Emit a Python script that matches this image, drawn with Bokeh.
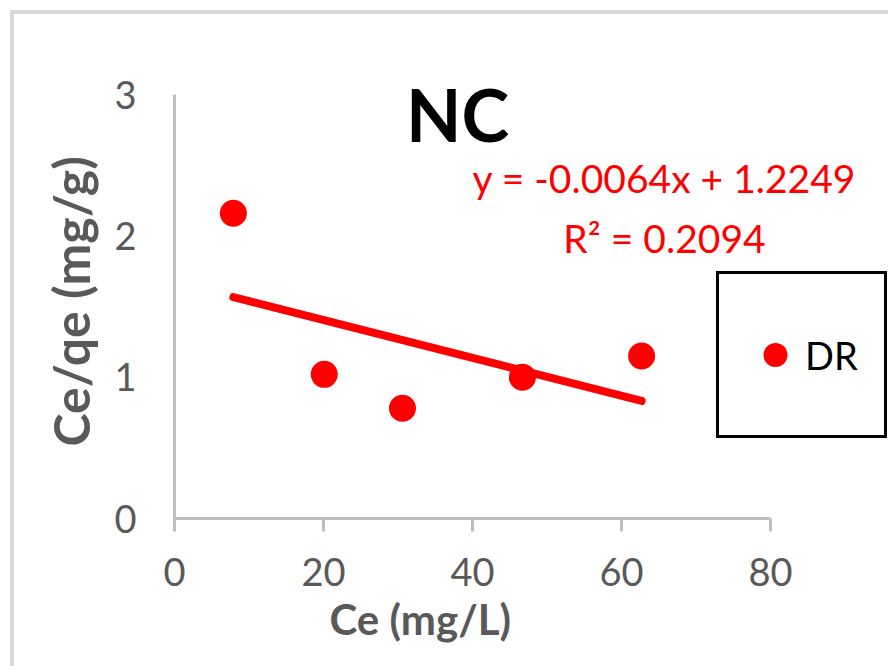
import numpy as np
from bokeh.plotting import figure
from bokeh.models import Legend, LegendItem, Label, FixedTicker, InlineStyleSheet, Title
from bokeh.embed import file_html
from bokeh.resources import INLINE

# ---- data ----
ce = [7.9, 20.1, 30.6, 46.7, 62.7]          # Ce (mg/L)
ce_qe = [2.16, 1.02, 0.78, 1.0, 1.15]       # Ce/qe (mg/g)
series_name = "DR"
title_text = "NC"
x_title = "Ce (mg/L)"
y_title = "Ce/qe (mg/g)"
eq_text = "y = -0.0064x + 1.2249"
r2_text = "R² = 0.2094"
x_ticks = [0, 20, 40, 60, 80]
y_ticks = [0, 1, 2, 3]
x_axis_span = (0, 80)
y_axis_span = (0, 3)

FONT = "Lato"
RED = "#ff0000"
GREY_TXT = "#595959"
AXIS_GREY = "#bfbfbf"

W, H = 888, 666
FL, FB = 174, 518          # frame left / bottom in canvas px
AX_R, AX_T = 770, 94       # where the axes end (x=80, y=3)

x_end = x_axis_span[1] * (W - FL) / (AX_R - FL)
y_end = y_axis_span[1] * FB / (FB - AX_T)

p = figure(width=W, height=H, output_backend="svg", toolbar_location=None,
           x_range=(0, x_end), y_range=(0, y_end))
p.min_border_left = FL
p.min_border_right = 0
p.min_border_top = 0
p.min_border_bottom = H - FB
p.outline_line_color = None
p.xgrid.visible = False
p.ygrid.visible = False
p.background_fill_color = "white"
p.border_fill_color = "white"

# outer chart border (light grey, top and left visible)
p.stylesheets = [InlineStyleSheet(css=(
    ":host::after{content:'';position:absolute;left:10px;top:10px;"
    "width:878px;height:656px;box-sizing:border-box;"
    "border-left:4px solid #d9d9d9;border-top:4px solid #d9d9d9;"
    "pointer-events:none;}"))]

# axes
for ax in (p.xaxis[0], p.yaxis[0]):
    ax.axis_line_color = AXIS_GREY
    ax.axis_line_width = 3
    ax.major_tick_line_color = AXIS_GREY
    ax.major_tick_line_width = 3
    ax.minor_tick_line_color = None
    ax.major_label_text_font = FONT
    ax.major_label_text_font_size = "38px"
    ax.major_label_text_color = GREY_TXT

p.xaxis.bounds = x_axis_span
p.yaxis.bounds = y_axis_span
p.xaxis.ticker = FixedTicker(ticks=x_ticks)
p.yaxis.ticker = FixedTicker(ticks=y_ticks)
p.xaxis.major_tick_out = 13
p.xaxis.major_tick_in = 0
p.yaxis.major_tick_out = 0
p.yaxis.major_tick_in = 0
p.xaxis.major_label_standoff = 26
p.yaxis.major_label_standoff = 38

# axis titles, placed under / beside the axis extent (not the wider frame)
p.add_layout(Title(text=x_title, align="left", vertical_align="top", offset=329 - FL,
                   text_font=FONT, text_font_style="bold", text_font_size="42px",
                   text_color=GREY_TXT, standoff=10), "below")
p.add_layout(Title(text=y_title, align="left", offset=FB - 473 + 27,
                   text_font=FONT, text_font_style="bold", text_font_size="50px",
                   text_color=GREY_TXT, standoff=22), "left")

# trend line (least squares from the points)
slope, intercept = np.polyfit(ce, ce_qe, 1)
tx = [min(ce), max(ce)]
ty = [slope * v + intercept for v in tx]
p.line(tx, ty, line_color=RED, line_width=8, line_cap="round")

# points
pts = p.scatter(ce, ce_qe, size=27, marker="circle", fill_color=RED, line_color=None)

# texts (screen units are relative to the frame's bottom-left corner)
def add_text(cx, cy, text, size, color, style="normal"):
    p.add_layout(Label(x=cx - FL, y=FB - cy, x_units="screen", y_units="screen", text=text,
                       text_font=FONT, text_font_style=style, text_font_size=size,
                       text_color=color, text_align="center", text_baseline="middle"))

add_text(457, 113, title_text, "72px", "black", "bold")
add_text(664, 177, eq_text, "39px", RED)
add_text(664, 237, r2_text, "39px", RED)

# legend
legend = Legend(items=[LegendItem(label=series_name, renderers=[pts])],
                location=(716 - FL, FB - 438), orientation="vertical",
                border_line_color="black", border_line_width=3, border_line_alpha=1,
                background_fill_color="white", background_fill_alpha=1,
                padding=26, margin=0, spacing=0,
                glyph_width=60, glyph_height=109, label_height=109,
                label_standoff=0, label_text_font=FONT, label_text_font_size="38px",
                label_text_color="black")
p.add_layout(legend, "center")

open("out.html", "w").write(file_html(p, INLINE))
